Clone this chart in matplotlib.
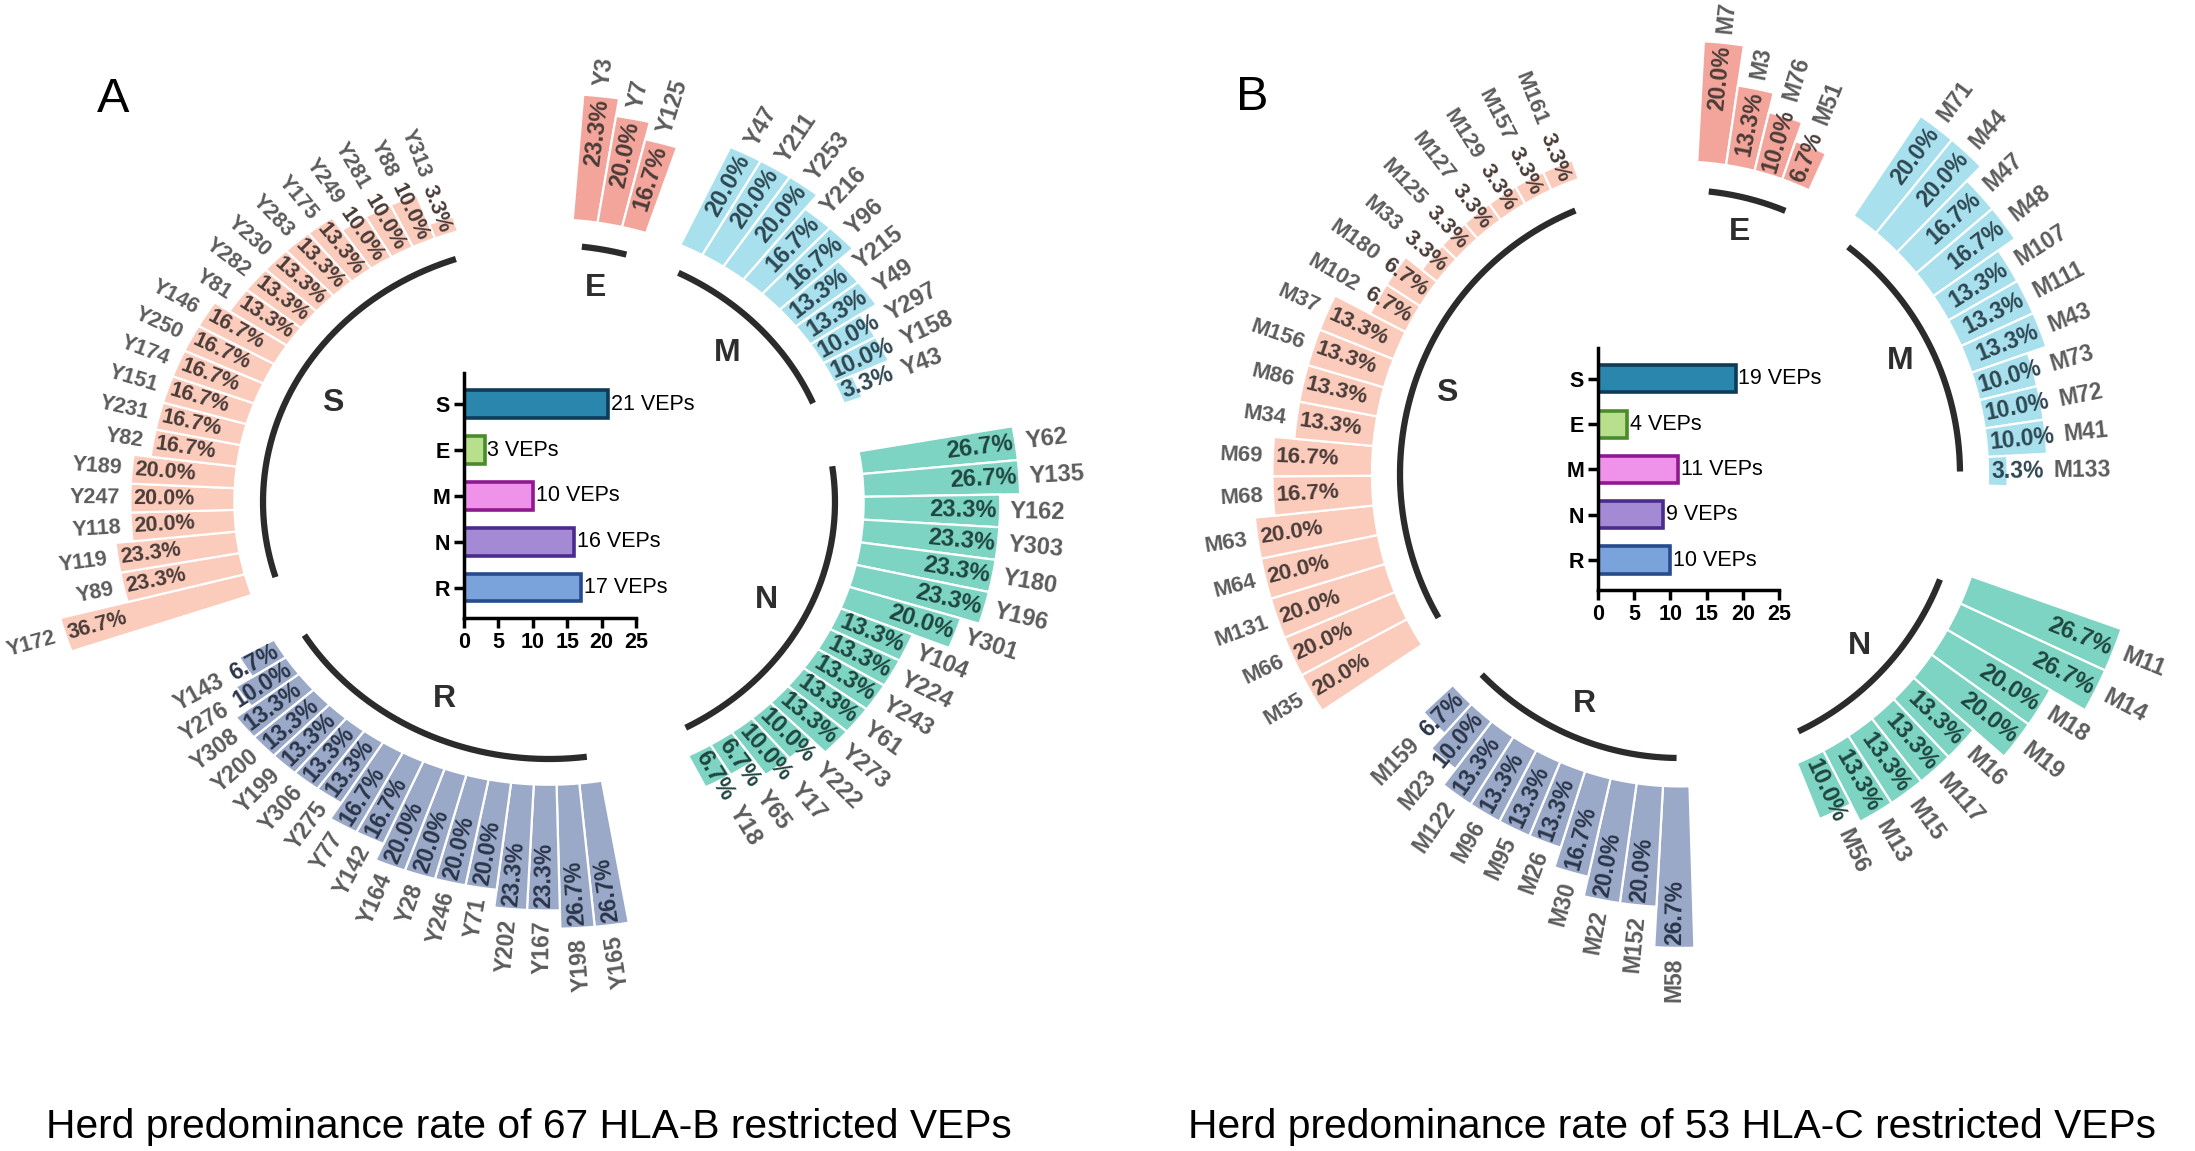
import numpy as np
import matplotlib
matplotlib.use('Agg')
import matplotlib.pyplot as plt

plt.rcParams['font.family'] = ['Liberation Sans', 'DejaVu Sans']

# ---------------- data ----------------
group_names = ['S', 'E', 'M', 'N', 'R']

A_S_ids = ['Y172', 'Y89', 'Y119', 'Y118', 'Y247', 'Y189', 'Y82', 'Y231', 'Y151', 'Y174', 'Y250',
           'Y146', 'Y81', 'Y282', 'Y230', 'Y283', 'Y175', 'Y249', 'Y281', 'Y88', 'Y313']
A_S_vals = [36.7, 23.3, 23.3, 20.0, 20.0, 20.0, 16.7, 16.7, 16.7, 16.7, 16.7,
            16.7, 13.3, 13.3, 13.3, 13.3, 13.3, 10.0, 10.0, 10.0, 3.3]
A_E_ids = ['Y3', 'Y7', 'Y125']
A_E_vals = [23.3, 20.0, 16.7]
A_M_ids = ['Y47', 'Y211', 'Y253', 'Y216', 'Y96', 'Y215', 'Y49', 'Y297', 'Y158', 'Y43']
A_M_vals = [20.0, 20.0, 20.0, 16.7, 16.7, 13.3, 13.3, 10.0, 10.0, 3.3]
A_N_ids = ['Y62', 'Y135', 'Y162', 'Y303', 'Y180', 'Y196', 'Y301', 'Y104', 'Y224', 'Y243',
           'Y61', 'Y273', 'Y222', 'Y17', 'Y65', 'Y18']
A_N_vals = [26.7, 26.7, 23.3, 23.3, 23.3, 23.3, 20.0, 13.3, 13.3, 13.3,
            13.3, 13.3, 10.0, 10.0, 6.7, 6.7]
A_R_ids = ['Y165', 'Y198', 'Y167', 'Y202', 'Y71', 'Y246', 'Y28', 'Y164', 'Y142', 'Y77',
           'Y275', 'Y306', 'Y199', 'Y200', 'Y308', 'Y276', 'Y143']
A_R_vals = [26.7, 26.7, 23.3, 23.3, 20.0, 20.0, 20.0, 20.0, 16.7, 16.7,
            13.3, 13.3, 13.3, 13.3, 13.3, 10.0, 6.7]

B_S_ids = ['M35', 'M66', 'M131', 'M64', 'M63', 'M68', 'M69', 'M34', 'M86', 'M156',
           'M37', 'M102', 'M180', 'M33', 'M125', 'M127', 'M129', 'M157', 'M161']
B_S_vals = [20.0, 20.0, 20.0, 20.0, 20.0, 16.7, 16.7, 13.3, 13.3, 13.3,
            13.3, 6.7, 6.7, 3.3, 3.3, 3.3, 3.3, 3.3, 3.3]
B_E_ids = ['M7', 'M3', 'M76', 'M51']
B_E_vals = [20.0, 13.3, 10.0, 6.7]
B_M_ids = ['M71', 'M44', 'M47', 'M48', 'M107', 'M111', 'M43', 'M73', 'M72', 'M41', 'M133']
B_M_vals = [20.0, 20.0, 16.7, 16.7, 13.3, 13.3, 13.3, 10.0, 10.0, 10.0, 3.3]
B_N_ids = ['M11', 'M14', 'M18', 'M19', 'M16', 'M117', 'M15', 'M13', 'M56']
B_N_vals = [26.7, 26.7, 20.0, 20.0, 13.3, 13.3, 13.3, 13.3, 10.0]
B_R_ids = ['M58', 'M152', 'M22', 'M30', 'M26', 'M95', 'M96', 'M122', 'M23', 'M159']
B_R_vals = [26.7, 20.0, 20.0, 16.7, 13.3, 13.3, 13.3, 13.3, 10.0, 6.7]

bar_cats = ['S', 'E', 'M', 'N', 'R']
A_counts = [21, 3, 10, 16, 17]
B_counts = [19, 4, 11, 9, 10]

caption_A = 'Herd predominance rate of 67 HLA-B restricted VEPs'
caption_B = 'Herd predominance rate of 53 HLA-C restricted VEPs'

# ---------------- styles ----------------
W, H = 2195, 1151
fig = plt.figure(figsize=(W / 100, H / 100), dpi=100)

ring_colors = {'S': '#fbcbbb', 'E': '#f4a59b', 'M': '#a8e0ed', 'N': '#7ed4c2', 'R': '#9ba9c9'}
val_colors = {'S': '#4a3c38', 'E': '#4a3c38', 'M': '#2e4752', 'N': '#1f4540', 'R': '#2b3548'}
id_color = '#5c5c5c'
bar_fills = ['#2a86ad', '#b8e08c', '#ee92ea', '#a48ad4', '#7aa3dc']
bar_edges = ['#0d3b58', '#4a8c2a', '#8f1a8f', '#4b2c8c', '#274c8c']

R_IN = 1.1

renderer = fig.canvas.get_renderer()


def text_width_px(s, fs, weight):
    t = fig.text(0, 0, s, fontsize=fs, fontweight=weight)
    w = t.get_window_extent(renderer=renderer).width
    t.remove()
    return w


def add_polar(cx, cy, rx, ry, rmax):
    left = (cx - rmax * rx) / W
    bottom = (H - (cy + rmax * ry)) / H
    ax = fig.add_axes([left, bottom, 2 * rmax * rx / W, 2 * rmax * ry / H], projection='polar')
    ax.set_aspect('auto')
    ax.set_ylim(0, rmax)
    ax.set_axis_off()
    return ax


def draw_ring(ax, groups, layout, rx, ry, label_r):
    for name, ids, vals in groups:
        start, step, k, fs = layout[name]
        n = len(vals)
        th = np.deg2rad(start - step * np.arange(n))
        hts = np.array(vals) * k
        ax.bar(th, hts, width=np.deg2rad(step), bottom=R_IN, color=ring_colors[name],
               edgecolor='white', linewidth=1.6, align='center')
        tt = np.linspace(th[0], th[-1], 200)
        ax.plot(tt, np.ones_like(tt), color='#2b2b2b', lw=4.5, solid_capstyle='butt')
        mid = 0.5 * (th[0] + th[-1])
        ax.text(mid, label_r, name, fontsize=23, fontweight='bold', color='#2e2e2e',
                ha='center', va='center')
        for i in range(n):
            t = th[i]
            c, s = np.cos(t), np.sin(t)
            ppr = np.hypot(rx * c, ry * s)
            rot = np.degrees(np.arctan2(ry * s, rx * c))
            flip = 90 < (rot % 360) < 282
            if flip:
                rot += 180
            ha_start = 'right' if flip else 'left'
            r_out = R_IN + hts[i]
            lab = f'{vals[i]:.1f}%'
            tw = text_width_px(lab, fs, 'bold') / ppr
            pad = 3 / ppr
            if r_out - pad - tw >= R_IN + pad:
                r0 = r_out - pad - tw
            else:
                r0 = R_IN + pad
            r_end = r0 + tw
            ax.text(t, r0, lab, fontsize=fs, fontweight='bold', color=val_colors[name],
                    rotation=rot, rotation_mode='anchor', ha=ha_start, va='center')
            r_id = max(r_out, r_end) + 10 / ppr
            ax.text(t, r_id, ids[i], fontsize=fs, fontweight='bold', color=id_color,
                    rotation=rot, rotation_mode='anchor', ha=ha_start, va='center')


def draw_bars(rect, counts):
    bx = fig.add_axes(rect)
    y = np.arange(len(bar_cats))
    bx.barh(y, counts, height=0.6, color=bar_fills, edgecolor=bar_edges, linewidth=2.6)
    bx.set_xlim(0, 25)
    bx.set_ylim(4.66, -0.68)
    bx.set_xticks([0, 5, 10, 15, 20, 25])
    bx.set_yticks(y)
    bx.set_yticklabels(bar_cats)
    for lab in bx.get_xticklabels() + bx.get_yticklabels():
        lab.set_fontweight('bold')
        lab.set_fontsize(15.5)
    for sp in ['top', 'right']:
        bx.spines[sp].set_visible(False)
    for sp in ['left', 'bottom']:
        bx.spines[sp].set_linewidth(2.5)
    bx.tick_params(width=2.5, length=7, pad=3)
    for yi, cnt in zip(y, counts):
        bx.text(cnt + 0.4, yi, f'{cnt} VEPs', va='center', ha='left', fontsize=15.5)
    return bx


# ---------------- panel A ----------------
A_cx, A_cy, A_rx, A_ry = 549, 502, 286, 257
axA = add_polar(A_cx, A_cy, A_rx, A_ry, 1.95)
A_layout = {'S': (197.0, 4.4, 0.0182, 15.5), 'E': (83.4, 4.55, 0.021, 17),
            'M': (63.1, 4.5, 0.021, 17), 'N': (8.0, 4.63, 0.0205, 17),
            'R': (-82.4, 4.15, 0.021, 16.5)}
A_groups = [('S', A_S_ids, A_S_vals), ('E', A_E_ids, A_E_vals), ('M', A_M_ids, A_M_vals),
            ('N', A_N_ids, A_N_vals), ('R', A_R_ids, A_R_vals)]
draw_ring(axA, A_groups, A_layout, A_rx, A_ry, 0.85)
draw_bars([464 / W, (H - 618) / H, 172 / W, 245 / H], A_counts)

# ---------------- panel B ----------------
B_cx, B_cy, B_rx, B_ry = 1680, 474, 280, 284
axB = add_polar(B_cx, B_cy, B_rx, B_ry, 1.95)
B_layout = {'S': (210.4, 5.47, 0.0213, 16), 'E': (84.1, 5.4, 0.0213, 16.5),
            'M': (53.1, 5.26, 0.0213, 16.5), 'N': (-21.8, 5.4, 0.0213, 17),
            'R': (-90.7, 4.93, 0.0213, 16.5)}
B_groups = [('S', B_S_ids, B_S_vals), ('E', B_E_ids, B_E_vals), ('M', B_M_ids, B_M_vals),
            ('N', B_N_ids, B_N_vals), ('R', B_R_ids, B_R_vals)]
draw_ring(axB, B_groups, B_layout, B_rx, B_ry, 0.88)
draw_bars([1598 / W, (H - 590) / H, 181 / W, 242 / H], B_counts)

# ---------------- labels ----------------
fig.text(97 / W, 1 - 112 / H, 'A', fontsize=35, va='baseline', ha='left')
fig.text(1236 / W, 1 - 110 / H, 'B', fontsize=35, va='baseline', ha='left')
fig.text(529 / W, 1 - 1127 / H, caption_A, fontsize=29.3, ha='center', va='center')
fig.text(1672 / W, 1 - 1127 / H, caption_B, fontsize=29.3, ha='center', va='center')

fig.savefig('out.png', dpi=100, facecolor='white')
